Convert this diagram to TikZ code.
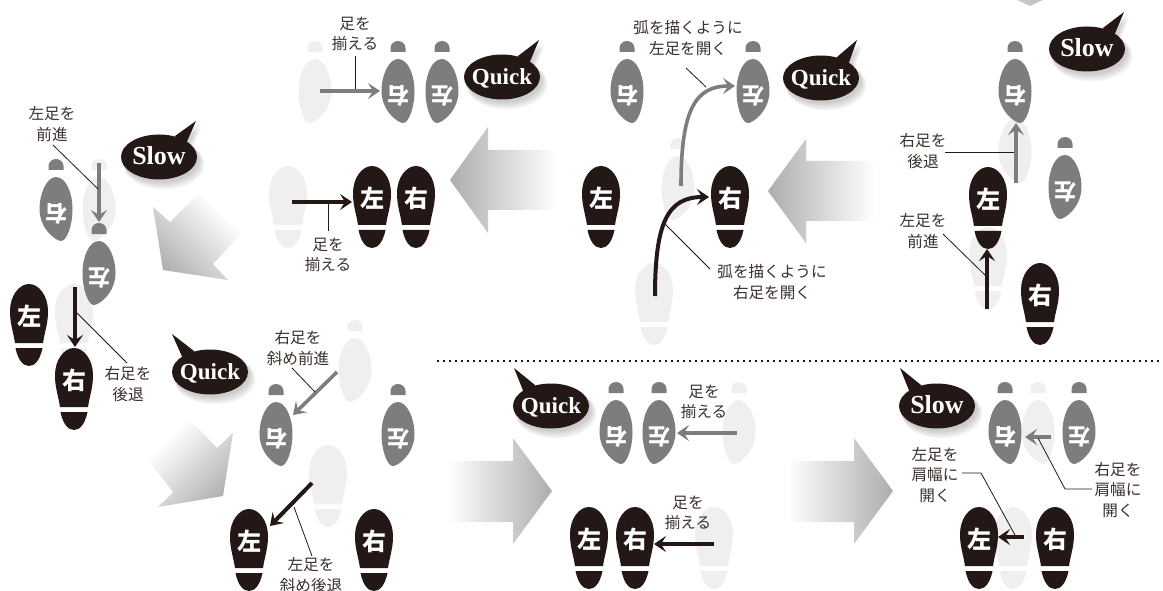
\documentclass[tikz,border=0pt]{standalone}
\usepackage{fontspec}
\setmainfont{Liberation Serif}
\newfontfamily\jpfont{Noto Sans CJK JP}
\usetikzlibrary{arrows.meta,shadings}
\definecolor{ink}{HTML}{231815}
\definecolor{midgrey}{HTML}{7D7D7D}
\definecolor{palegrey}{HTML}{EFEFEF}
\definecolor{arrowgrey}{HTML}{ADADAD}
\pgfdeclareverticalshading{diagfade}{100bp}{color(0bp)=(arrowgrey); color(22bp)=(arrowgrey); color(70bp)=(white); color(100bp)=(white)}
\newcommand{\slowword}{\fontsize{26}{26}\selectfont Slow}
\tikzset{
  lbl/.style={font=\jpfont\fontsize{15.6}{20.5}\selectfont,align=center,text=ink!90,inner sep=0pt},
  leaderline/.style={draw=ink,line width=0.8pt},
  footchar/.style={font=\jpfont\bfseries\fontsize{24}{24}\selectfont,text=white,inner sep=0pt},
  greyarrow/.style={draw=midgrey,line width=3.6pt,-{Stealth[length=12pt,width=16pt,inset=5pt]}},
  blackarrow/.style={draw=ink,line width=4pt,-{Stealth[length=12pt,width=16pt,inset=5pt]}},
  bubbletext/.style={font=\bfseries\fontsize{23}{23}\selectfont,text=white,inner sep=0pt,anchor=base}
}
% upright foot: sole with heel below
\newcommand{\upfoot}[5]{%
  \begin{scope}[shift={(#2,#3)}]
    \fill[#4] (-14,59) .. controls (-16,46) and (-19,40) .. (-19,27) .. controls (-19,12) and (-10,0) .. (0,0)
      .. controls (10,0) and (19,12) .. (19,27) .. controls (19,40) and (16,46) .. (14,59) -- cycle;
    \fill[#4] (-13.5,64) -- (13.5,64) .. controls (11,76) and (6,82) .. (0,82) .. controls (-6,82) and (-11,76) .. (-13.5,64) -- cycle;
    \node[footchar] (#1) at (0,32) {#5};
  \end{scope}}
% inverted foot: small dome above, tapering sole below; #5 = 1 or -1 mirrors
\newcommand{\downfoot}[6]{%
  \begin{scope}[shift={(#2,#3)}]
    \fill[#4] (-7.5,11) -- (-7.5,7) .. controls (-7.5,3) and (-4,0) .. (0,0) .. controls (4,0) and (7.5,3) .. (7.5,7) -- (7.5,11) -- cycle;
    \begin{scope}[xscale=#5]
      \fill[#4] (0,18) .. controls (10,18) and (16.5,34) .. (16.5,50) .. controls (16.5,66) and (11,82) .. (5,82)
        .. controls (0,82) and (-16.5,70) .. (-16.5,50) .. controls (-16.5,34) and (-9,18) .. (0,18) -- cycle;
    \end{scope}
    \node[footchar,font=\jpfont\bfseries\fontsize{22}{22}\selectfont,rotate=180] (#1) at (0,55) {#6};
  \end{scope}}
% speech bubble: name, cx, cy, tipx (rel), tipy (rel), side, text
\newcommand{\bubble}[7]{%
  \begin{scope}[shift={(#2,#3)}]
    \foreach \k in {0,...,5}{
      \fill[black,opacity=0.03] [shift={(2+0.7*\k,3+0.7*\k)}]
        (#6*16,-21) -- (#4,#5) -- (#6*28,-15.5) -- cycle;
      \fill[black,opacity=0.035] (2+0.6*\k,3+0.9*\k) ellipse [x radius=38+0.5*\k,y radius=22.5+0.5*\k];
    }
    \fill[ink] (#6*16,-21) -- (#4,#5) -- (#6*28,-15.5) -- (#6*20,-10) -- cycle;
    \fill[ink] (0,0) ellipse [x radius=38,y radius=22.5];
    \node[bubbletext] (#1) at (0,7.5) {#7};
  \end{scope}}
\begin{document}
\begin{tikzpicture}[x=1pt,y=-1pt]
\useasboundingbox (0,0) rectangle (1163,591);

% gradient block arrows
\shade[left color=arrowgrey,right color=white] (450,180) -- (488,127) -- (488,150) -- (556,150) -- (556,210) -- (488,210) -- (488,233) -- cycle;
\shade[left color=arrowgrey,right color=white] (768,191) -- (806,139) -- (806,161) -- (875,161) -- (875,221) -- (806,221) -- (806,243) -- cycle;
\shade[right color=arrowgrey,left color=white] (552,491) -- (513,438) -- (513,461) -- (447,461) -- (447,522) -- (513,522) -- (513,544) -- cycle;
\shade[right color=arrowgrey,left color=white] (893,491) -- (854,438) -- (854,461) -- (788,461) -- (788,522) -- (854,522) -- (854,544) -- cycle;
\shade[shading=diagfade,shading angle=-45] (163,270) -- (153,207) -- (170,222) -- (200,192) -- (242,233) -- (213,264) -- (228,280) -- cycle;
\shade[shading=diagfade,shading angle=45] (223,496) -- (233,433) -- (217,448) -- (190,420) -- (148,460) -- (173,492) -- (158,507) -- cycle;
\fill[arrowgrey!70] (1015,-1) -- (1030,6) -- (1045,-1) -- cycle;

% dotted separator
\coordinate (sepa) at (437,361);
\coordinate (sepb) at (1163,361);
\draw[ink,line width=1.6pt,dash pattern=on 1.6pt off 4.4pt] (sepa) -- (sepb);

% pale feet
\upfoot{pu1}{288}{166}{palegrey}{}
\upfoot{pu2}{654}{263}{palegrey}{}
\upfoot{pu3}{988}{227}{palegrey}{}
\upfoot{pu4}{74}{284}{palegrey}{}
\upfoot{pu5}{328}{445}{palegrey}{}
\upfoot{pu6}{714}{507}{palegrey}{}
\upfoot{pu7}{1013}{507}{palegrey}{}
\downfoot{pd1}{315}{41}{palegrey}{-1}{}
\downfoot{pd2}{678}{138}{palegrey}{-1}{}
\downfoot{pd3}{1015}{101}{palegrey}{1}{}
\downfoot{pd4}{99}{159}{palegrey}{-1}{}
\downfoot{pd5}{355}{320}{palegrey}{-1}{}
\downfoot{pd6}{739}{382}{palegrey}{-1}{}
\downfoot{pd7}{1038}{382}{palegrey}{1}{}

% grey feet
\downfoot{g1}{398}{41}{midgrey}{1}{右}
\downfoot{g2}{442}{41}{midgrey}{-1}{左}
\downfoot{g3}{627}{41}{midgrey}{1}{右}
\downfoot{g4}{753}{41}{midgrey}{-1}{左}
\downfoot{g5}{1015}{41}{midgrey}{1}{右}
\downfoot{g6}{1065}{137}{midgrey}{-1}{左}
\downfoot{g7}{56}{159}{midgrey}{1}{右}
\downfoot{g8}{99}{223}{midgrey}{-1}{左}
\downfoot{g9}{276}{384}{midgrey}{1}{右}
\downfoot{g10}{398}{384}{midgrey}{-1}{左}
\downfoot{g11}{616}{382}{midgrey}{1}{右}
\downfoot{g12}{659}{382}{midgrey}{-1}{左}
\downfoot{g13}{1005}{382}{midgrey}{1}{右}
\downfoot{g14}{1079}{382}{midgrey}{-1}{左}

% black feet
\upfoot{b1}{372}{166}{ink}{左}
\upfoot{b2}{416}{166}{ink}{右}
\upfoot{b3}{601}{166}{ink}{左}
\upfoot{b4}{730}{166}{ink}{右}
\upfoot{b5}{988}{167}{ink}{左}
\upfoot{b6}{1040}{263}{ink}{右}
\upfoot{b7}{29}{284}{ink}{左}
\upfoot{b8}{74}{348}{ink}{右}
\upfoot{b9}{249}{509}{ink}{左}
\upfoot{b10}{374}{509}{ink}{右}
\upfoot{b11}{589}{507}{ink}{左}
\upfoot{b12}{635}{507}{ink}{右}
\upfoot{b13}{979}{507}{ink}{左}
\upfoot{b14}{1055}{507}{ink}{右}

% bubbles
\bubble{q1}{502}{77}{37}{-37}{1}{Quick}
\bubble{q2}{821}{78}{36}{-38}{1}{Quick}
\bubble{s1}{1087}{49}{37}{-37}{1}{\slowword}
\bubble{s2}{159}{157}{37}{-36}{1}{\slowword}
\bubble{q3}{210}{372}{-38}{-38}{-1}{Quick}
\bubble{q4}{551}{406}{-37}{-38}{-1}{Quick}
\bubble{s3}{937}{406}{-37}{-38}{-1}{\slowword}

% step arrows
\coordinate (a1s) at (320,91); \coordinate (a1e) at (380,91);
\draw[greyarrow] (a1s) -- (a1e);
\coordinate (a2s) at (292,202); \coordinate (a2e) at (352,202);
\draw[blackarrow] (a2s) -- (a2e);
\coordinate (a3s) at (681,186); \coordinate (a3e) at (735,86);
\draw[greyarrow] (a3s) .. controls (681,110) and (695,86) .. (a3e);
\coordinate (a4s) at (655,296); \coordinate (a4e) at (709,197);
\draw[blackarrow] (a4s) .. controls (655,222) and (668,197) .. (a4e);
\coordinate (a5s) at (1016,183); \coordinate (a5e) at (1016,123);
\draw[greyarrow] (a5s) -- (a5e);
\coordinate (a6s) at (987,309); \coordinate (a6e) at (987,249);
\draw[blackarrow] (a6s) -- (a6e);
\coordinate (a7s) at (99,163); \coordinate (a7e) at (99,222);
\draw[greyarrow] (a7s) -- (a7e);
\coordinate (a8s) at (75,287); \coordinate (a8e) at (75,347);
\draw[blackarrow] (a8s) -- (a8e);
\coordinate (a9s) at (337,372); \coordinate (a9e) at (293,415);
\draw[greyarrow] (a9s) -- (a9e);
\coordinate (a10s) at (312,483); \coordinate (a10e) at (270,526);
\draw[blackarrow] (a10s) -- (a10e);
\coordinate (a11s) at (737,433); \coordinate (a11e) at (677,433);
\draw[greyarrow] (a11s) -- (a11e);
\coordinate (a12s) at (714,544); \coordinate (a12e) at (654,544);
\draw[blackarrow] (a12s) -- (a12e);
\coordinate (a13s) at (1051,437); \coordinate (a13e) at (1025,437);
\draw[greyarrow] (a13s) -- (a13e);
\coordinate (a14s) at (1024,537); \coordinate (a14e) at (998,537);
\draw[blackarrow] (a14s) -- (a14e);

% labels
\node[lbl] (l1) at (355,34) {足を\\揃える};
\node[lbl] (l2) at (328,255) {足を\\揃える};
\node[lbl] (l3) at (688,38) {弧を描くように\\左足を開く};
\node[lbl] (l4) at (772,282) {弧を描くように\\右足を開く};
\node[lbl] (l5) at (923,151) {右足を\\後退};
\node[lbl] (l6) at (923,231) {左足を\\前進};
\node[lbl] (l7) at (52,124) {左足を\\前進};
\node[lbl] (l8) at (128,384) {右足を\\後退};
\node[lbl] (l9) at (298,348) {右足を\\斜め前進};
\node[lbl] (l10) at (311,575) {左足を\\斜め後退};
\node[lbl] (l11) at (704,402) {足を\\揃える};
\node[lbl] (l12) at (688,513) {足を\\揃える};
\node[lbl] (l13) at (1118,490) {右足を\\肩幅に\\開く};
\node[lbl] (l14) at (935,475) {左足を\\肩幅に\\開く};

% leaders
\coordinate (k1) at (355,56); \coordinate (k1e) at (355,89);
\draw[leaderline] (k1) -- (k1e);
\coordinate (k2) at (328,231); \coordinate (k2e) at (328,203);
\draw[leaderline] (k2) -- (k2e);
\coordinate (k3) at (686,68); \coordinate (k3e) at (706,87);
\draw[leaderline] (k3) -- (k3e);
\coordinate (k4) at (710,269); \coordinate (k4e) at (663,222);
\draw[leaderline] (k4) -- (k4e);
\coordinate (k5) at (945,152); \coordinate (k5e) at (1014,152);
\draw[leaderline] (k5) -- (k5e);
\coordinate (k6) at (943,234); \coordinate (k6e) at (986,276);
\draw[leaderline] (k6) -- (k6e);
\coordinate (k7) at (53,145); \coordinate (k7e) at (98,189);
\draw[leaderline] (k7) -- (k7e);
\coordinate (k8) at (127,363); \coordinate (k8e) at (77,313);
\draw[leaderline] (k8) -- (k8e);
\coordinate (k9) at (292,368); \coordinate (k9e) at (315,392);
\draw[leaderline] (k9) -- (k9e);
\coordinate (k10) at (312,556); \coordinate (k10e) at (294,507);
\draw[leaderline] (k10) -- (k10e);
\coordinate (k13) at (1092,489); \coordinate (k13m) at (1065,489); \coordinate (k13e) at (1038,438);
\draw[leaderline] (k13) -- (k13m) -- (k13e);
\coordinate (k14) at (962,473); \coordinate (k14m) at (981,473); \coordinate (k14e) at (1015,535);
\draw[leaderline] (k14) -- (k14m) -- (k14e);
\end{tikzpicture}
\end{document}
